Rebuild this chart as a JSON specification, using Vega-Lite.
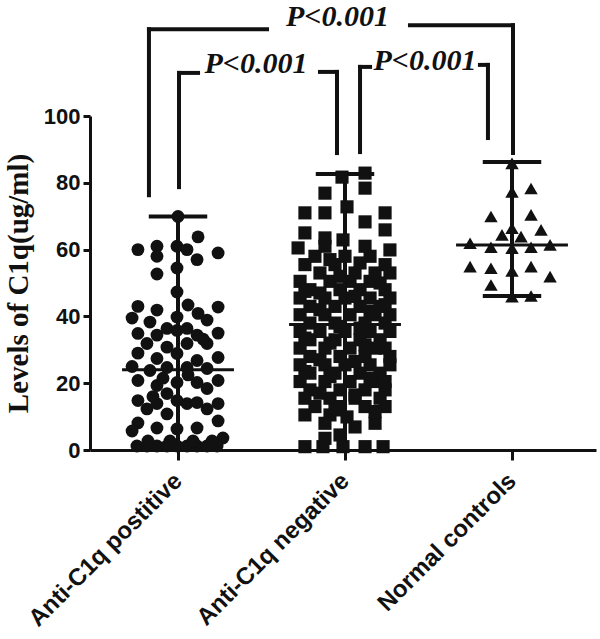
{
  "$schema": "https://vega.github.io/schema/vega-lite/v6.json",
  "autosize": {"type": "none"},
  "width": 506,
  "height": 334,
  "padding": {"left": 90, "top": 116, "right": 4, "bottom": 189},
  "background": "white",
  "config": {"view": {"stroke": null}},
  "datasets": {
    "points": [
      {"g":1,"dx":0,"v":69.9},{"g":1,"dx":0.12,"v":63.8},{"g":1,"dx":-0.24,"v":60},{"g":1,"dx":-0.126,"v":61},{"g":1,"dx":-0.126,"v":58},
      {"g":1,"dx":-0.006,"v":61},{"g":1,"dx":0.054,"v":60},{"g":1,"dx":0.114,"v":57},{"g":1,"dx":0.24,"v":59},{"g":1,"dx":-0.126,"v":52.7},
      {"g":1,"dx":-0.006,"v":54.5},{"g":1,"dx":-0.006,"v":47.3},{"g":1,"dx":-0.24,"v":43},{"g":1,"dx":-0.126,"v":41.9},{"g":1,"dx":0.06,"v":43.4},
      {"g":1,"dx":0.24,"v":42.8},{"g":1,"dx":-0.275,"v":39.5},{"g":1,"dx":-0.168,"v":38.3},{"g":1,"dx":-0.006,"v":39.8},{"g":1,"dx":0.12,"v":40.9},
      {"g":1,"dx":0.174,"v":38.9},{"g":1,"dx":-0.24,"v":34.9},{"g":1,"dx":-0.126,"v":34.4},{"g":1,"dx":-0.066,"v":36.4},{"g":1,"dx":-0.006,"v":35.8},
      {"g":1,"dx":0.054,"v":36.4},{"g":1,"dx":0.114,"v":34.4},{"g":1,"dx":0.24,"v":35},{"g":1,"dx":-0.186,"v":31.9},{"g":1,"dx":-0.066,"v":30.8},
      {"g":1,"dx":0.054,"v":31.9},{"g":1,"dx":0.174,"v":31.9},{"g":1,"dx":-0.24,"v":29},{"g":1,"dx":-0.126,"v":27.4},{"g":1,"dx":-0.006,"v":28.9},
      {"g":1,"dx":0.114,"v":26.8},{"g":1,"dx":0.24,"v":27.7},{"g":1,"dx":-0.275,"v":25},{"g":1,"dx":-0.168,"v":23.8},{"g":1,"dx":-0.066,"v":24.7},
      {"g":1,"dx":0.054,"v":24.7},{"g":1,"dx":0.174,"v":24.4},{"g":1,"dx":-0.24,"v":20.8},{"g":1,"dx":-0.126,"v":19.3},{"g":1,"dx":-0.006,"v":20.2},
      {"g":1,"dx":0.114,"v":20.2},{"g":1,"dx":0.24,"v":20.8},{"g":1,"dx":0.174,"v":18.4},{"g":1,"dx":-0.066,"v":16.9},{"g":1,"dx":-0.24,"v":14.8},
      {"g":1,"dx":-0.126,"v":13.9},{"g":1,"dx":-0.006,"v":14.8},{"g":1,"dx":0.054,"v":13.9},{"g":1,"dx":0.114,"v":14.2},{"g":1,"dx":0.24,"v":13.9},
      {"g":1,"dx":-0.186,"v":12.3},{"g":1,"dx":0.174,"v":12.3},{"g":1,"dx":-0.066,"v":10.8},{"g":1,"dx":0.24,"v":8.7},{"g":1,"dx":-0.24,"v":8.1},
      {"g":1,"dx":-0.275,"v":5.7},{"g":1,"dx":-0.126,"v":6.6},{"g":1,"dx":-0.006,"v":6.3},{"g":1,"dx":0.114,"v":6.6},{"g":1,"dx":0.269,"v":3.6},
      {"g":1,"dx":-0.246,"v":1.2},{"g":1,"dx":-0.186,"v":1.2},{"g":1,"dx":-0.126,"v":1.2},{"g":1,"dx":-0.066,"v":1.2},{"g":1,"dx":-0.006,"v":1.2},
      {"g":1,"dx":0.054,"v":1.2},{"g":1,"dx":0.114,"v":1.2},{"g":1,"dx":0.174,"v":1.2},{"g":1,"dx":0.234,"v":1.2},
      {"g":1,"dx":-0.18,"v":2.7},{"g":1,"dx":-0.048,"v":2.7},{"g":1,"dx":0.09,"v":2.7},{"g":1,"dx":0.204,"v":2.7},
      {"g":1,"dx":0.06,"v":22.5},{"g":1,"dx":-0.09,"v":21.5},{"g":1,"dx":0.15,"v":33.2},{"g":1,"dx":-0.15,"v":16},

      {"g":2,"dx":0.12,"v":82.9},{"g":2,"dx":-0.018,"v":81.7},{"g":2,"dx":0.12,"v":78.4},{"g":2,"dx":-0.12,"v":76.9},{"g":2,"dx":0.012,"v":72.8},
      {"g":2,"dx":-0.24,"v":71},{"g":2,"dx":-0.12,"v":71},{"g":2,"dx":0.24,"v":71},{"g":2,"dx":0.12,"v":68.3},{"g":2,"dx":-0.24,"v":65},
      {"g":2,"dx":0.24,"v":65.9},{"g":2,"dx":-0.012,"v":62.9},{"g":2,"dx":-0.12,"v":63.5},{"g":2,"dx":-0.281,"v":60.5},{"g":2,"dx":-0.12,"v":61},
      {"g":2,"dx":0.12,"v":61},{"g":2,"dx":0.269,"v":59.9},
      {"g":2,"dx":-0.18,"v":58},{"g":2,"dx":0,"v":58},{"g":2,"dx":0.15,"v":58},
      {"g":2,"dx":-0.24,"v":55.5},{"g":2,"dx":-0.06,"v":55.5},{"g":2,"dx":0.24,"v":55.5},
      {"g":2,"dx":-0.15,"v":53},{"g":2,"dx":0.06,"v":53},{"g":2,"dx":0.18,"v":53},{"g":2,"dx":0.269,"v":53},
      {"g":2,"dx":-0.269,"v":50.5},{"g":2,"dx":-0.09,"v":50.5},{"g":2,"dx":0.03,"v":50.5},{"g":2,"dx":0.15,"v":50.5},
      {"g":2,"dx":-0.21,"v":48},{"g":2,"dx":-0.03,"v":48},{"g":2,"dx":0.09,"v":48},{"g":2,"dx":0.24,"v":48},
      {"g":2,"dx":-0.269,"v":45.5},{"g":2,"dx":-0.12,"v":45.5},{"g":2,"dx":0,"v":45.5},{"g":2,"dx":0.15,"v":45.5},{"g":2,"dx":0.269,"v":45.5},
      {"g":2,"dx":-0.21,"v":43},{"g":2,"dx":-0.06,"v":43},{"g":2,"dx":0.09,"v":43},{"g":2,"dx":0.21,"v":43},
      {"g":2,"dx":-0.269,"v":40.5},{"g":2,"dx":-0.12,"v":40.5},{"g":2,"dx":0.03,"v":40.5},{"g":2,"dx":0.18,"v":40.5},{"g":2,"dx":0.269,"v":40.5},
      {"g":2,"dx":-0.21,"v":38},{"g":2,"dx":-0.06,"v":38},{"g":2,"dx":0.12,"v":38},{"g":2,"dx":0.24,"v":38},
      {"g":2,"dx":-0.269,"v":35.5},{"g":2,"dx":-0.15,"v":35.5},{"g":2,"dx":0,"v":35.5},{"g":2,"dx":0.15,"v":35.5},{"g":2,"dx":0.269,"v":35.5},
      {"g":2,"dx":-0.21,"v":33},{"g":2,"dx":-0.06,"v":33},{"g":2,"dx":0.09,"v":33},{"g":2,"dx":0.21,"v":33},
      {"g":2,"dx":-0.269,"v":30.5},{"g":2,"dx":-0.12,"v":30.5},{"g":2,"dx":0.03,"v":30.5},{"g":2,"dx":0.18,"v":30.5},
      {"g":2,"dx":-0.21,"v":28},{"g":2,"dx":-0.03,"v":28},{"g":2,"dx":0.12,"v":28},{"g":2,"dx":0.269,"v":28},
      {"g":2,"dx":-0.269,"v":25.5},{"g":2,"dx":-0.12,"v":25.5},{"g":2,"dx":0,"v":25.5},{"g":2,"dx":0.15,"v":25.5},{"g":2,"dx":0.269,"v":25.5},
      {"g":2,"dx":-0.21,"v":23},{"g":2,"dx":-0.06,"v":23},{"g":2,"dx":0.09,"v":23},{"g":2,"dx":0.21,"v":23},
      {"g":2,"dx":-0.269,"v":20.5},{"g":2,"dx":-0.12,"v":20.5},{"g":2,"dx":0.03,"v":20.5},{"g":2,"dx":0.18,"v":20.5},
      {"g":2,"dx":-0.21,"v":18},{"g":2,"dx":-0.03,"v":18},{"g":2,"dx":0.12,"v":18},{"g":2,"dx":0.24,"v":18},
      {"g":2,"dx":-0.24,"v":15.5},{"g":2,"dx":-0.09,"v":15.5},{"g":2,"dx":0.06,"v":15.5},{"g":2,"dx":0.21,"v":15.5},
      {"g":2,"dx":-0.18,"v":13},{"g":2,"dx":-0.03,"v":13},{"g":2,"dx":0.12,"v":13},{"g":2,"dx":0.24,"v":13},
      {"g":2,"dx":-0.24,"v":10.5},{"g":2,"dx":-0.09,"v":10.5},{"g":2,"dx":0.012,"v":9.9},
      {"g":2,"dx":-0.12,"v":8},{"g":2,"dx":0.06,"v":6.9},{"g":2,"dx":0.18,"v":8},
      {"g":2,"dx":-0.03,"v":4.5},{"g":2,"dx":-0.12,"v":3.5},
      {"g":2,"dx":-0.24,"v":1},{"g":2,"dx":-0.132,"v":1},{"g":2,"dx":-0.012,"v":1},{"g":2,"dx":0.12,"v":1},{"g":2,"dx":0.228,"v":1},
      {"g":2,"dx":-0.09,"v":57},{"g":2,"dx":0.09,"v":56},{"g":2,"dx":-0.03,"v":52},{"g":2,"dx":0.21,"v":50},
      {"g":2,"dx":-0.15,"v":47},{"g":2,"dx":0.06,"v":46},{"g":2,"dx":-0.15,"v":42},{"g":2,"dx":0.15,"v":41.5},
      {"g":2,"dx":-0.03,"v":37},{"g":2,"dx":0.09,"v":36.5},{"g":2,"dx":-0.09,"v":32},{"g":2,"dx":0.12,"v":31.5},
      {"g":2,"dx":-0.15,"v":27},{"g":2,"dx":0.06,"v":26.5},{"g":2,"dx":-0.09,"v":22},{"g":2,"dx":0.15,"v":21.5},
      {"g":2,"dx":-0.15,"v":17},{"g":2,"dx":0.06,"v":16.5},{"g":2,"dx":-0.06,"v":12},{"g":2,"dx":0.18,"v":11.5},
      {"g":2,"dx":-0.24,"v":47.5},{"g":2,"dx":0.24,"v":43.5},{"g":2,"dx":-0.24,"v":33.5},{"g":2,"dx":0.24,"v":30.5},
      {"g":2,"dx":-0.24,"v":23.5},{"g":2,"dx":0.24,"v":20.5},

      {"g":3,"dx":0,"v":85.8},{"g":3,"dx":0,"v":77.3},{"g":3,"dx":0.114,"v":78.3},{"g":3,"dx":-0.126,"v":69.9},{"g":3,"dx":0.114,"v":70.4},
      {"g":3,"dx":0,"v":66.4},{"g":3,"dx":-0.06,"v":64.4},{"g":3,"dx":0.054,"v":63.9},{"g":3,"dx":0.174,"v":65.9},{"g":3,"dx":-0.251,"v":61.9},
      {"g":3,"dx":-0.126,"v":60.7},{"g":3,"dx":0,"v":60.4},{"g":3,"dx":0.114,"v":60.7},{"g":3,"dx":0.228,"v":61.4},{"g":3,"dx":-0.251,"v":54.9},
      {"g":3,"dx":-0.126,"v":54.4},{"g":3,"dx":0,"v":53.6},{"g":3,"dx":0.114,"v":54.9},{"g":3,"dx":0.228,"v":51.9},{"g":3,"dx":-0.126,"v":49.4},
      {"g":3,"dx":0,"v":45.9},{"g":3,"dx":0.114,"v":46.1}
    ],
    "stats": [
      {"g":1,"mean":24.0,"lo":0,"hi":69.9},
      {"g":2,"mean":37.6,"lo":0,"hi":82.6},
      {"g":3,"mean":61.4,"lo":46.1,"hi":86.2}
    ],
    "brackets": [
      {"x":0.826,"x2":0.826,"y":76.3,"y2":126.0},
      {"x":0.826,"x2":1.533,"y":126.0,"y2":126.0},
      {"x":2.389,"x2":3.006,"y":127.2,"y2":127.2},
      {"x":3.006,"x2":3.006,"y":88.9,"y2":127.2},
      {"x":1.006,"x2":1.006,"y":78.7,"y2":112.9},
      {"x":1.006,"x2":1.12,"y":112.9,"y2":112.9},
      {"x":1.85,"x2":1.952,"y":113.2,"y2":113.2},
      {"x":1.952,"x2":1.952,"y":88.9,"y2":113.2},
      {"x":2.09,"x2":2.09,"y":89.2,"y2":114.7},
      {"x":2.09,"x2":2.15,"y":114.7,"y2":114.7},
      {"x":2.808,"x2":2.856,"y":115.3,"y2":115.3},
      {"x":2.856,"x2":2.856,"y":93.4,"y2":115.3}
    ],
    "plabels": [
      {"x":1.955,"y":126.8,"label":"P<0.001"},
      {"x":1.467,"y":112.9,"label":"P<0.001"},
      {"x":2.479,"y":113.8,"label":"P<0.001"}
    ]
  },
  "layer": [
    {
      "data": {"name": "stats"},
      "mark": {"type": "rule", "color": "#111111", "strokeWidth": 4},
      "encoding": {
        "x": {"field": "g", "type": "quantitative",
          "scale": {"domain": [0.473, 3.503], "nice": false, "zero": false},
          "axis": {
            "values": [1, 2, 3],
            "labelExpr": "datum.value == 1 ? 'Anti-C1q postitive' : datum.value == 2 ? 'Anti-C1q negative' : 'Normal controls'",
            "title": null, "grid": false,
            "domainColor": "#111111", "domainWidth": 3,
            "tickColor": "#111111", "tickWidth": 3, "tickSize": 10,
            "labelAngle": -45, "labelAlign": "right", "labelBaseline": "middle",
            "labelPadding": 17, "labelLimit": 0,
            "labelFont": "Liberation Sans", "labelFontWeight": "bold", "labelFontSize": 24,
            "labelColor": "#111111", "labelOverlap": false, "labelBound": false, "labelFlush": false
          }
        },
        "y": {"field": "lo", "type": "quantitative",
          "scale": {"domain": [0, 100], "nice": false},
          "axis": {
            "values": [0, 20, 40, 60, 80, 100],
            "title": "Levels of C1q(ug/ml)", "grid": false,
            "domainColor": "#111111", "domainWidth": 3,
            "tickColor": "#111111", "tickWidth": 3, "tickSize": 7,
            "labelPadding": 3,
            "labelFont": "Liberation Sans", "labelFontWeight": "bold", "labelFontSize": 22,
            "labelColor": "#111111",
            "titleFont": "Liberation Serif", "titleFontWeight": "bold", "titleFontSize": 29,
            "titleColor": "#111111", "titlePadding": 10
          }
        },
        "y2": {"field": "hi"}
      }
    },
    {
      "data": {"name": "stats"},
      "transform": [
        {"calculate": "datum.g - 0.175", "as": "ca"},
        {"calculate": "datum.g + 0.175", "as": "cb"}
      ],
      "mark": {"type": "rule", "color": "#111111", "strokeWidth": 4},
      "encoding": {
        "x": {"field": "ca", "type": "quantitative"},
        "x2": {"field": "cb"},
        "y": {"field": "hi", "type": "quantitative"}
      }
    },
    {
      "data": {"name": "stats"},
      "transform": [
        {"filter": "datum.lo > 0"},
        {"calculate": "datum.g - 0.175", "as": "ca"},
        {"calculate": "datum.g + 0.175", "as": "cb"}
      ],
      "mark": {"type": "rule", "color": "#111111", "strokeWidth": 4},
      "encoding": {
        "x": {"field": "ca", "type": "quantitative"},
        "x2": {"field": "cb"},
        "y": {"field": "lo", "type": "quantitative"}
      }
    },
    {
      "data": {"name": "stats"},
      "transform": [
        {"calculate": "datum.g - 0.335", "as": "ma"},
        {"calculate": "datum.g + 0.335", "as": "mb"}
      ],
      "mark": {"type": "rule", "color": "#111111", "strokeWidth": 3},
      "encoding": {
        "x": {"field": "ma", "type": "quantitative"},
        "x2": {"field": "mb"},
        "y": {"field": "mean", "type": "quantitative"}
      }
    },
    {
      "data": {"name": "points"},
      "transform": [{"calculate": "datum.g + datum.dx", "as": "px"}],
      "mark": {"type": "point", "filled": true, "opacity": 1, "color": "#111111", "strokeWidth": 0},
      "encoding": {
        "x": {"field": "px", "type": "quantitative"},
        "y": {"field": "v", "type": "quantitative"},
        "shape": {"field": "g", "type": "nominal",
          "scale": {"domain": [1, 2, 3], "range": ["circle", "square", "triangle-up"]},
          "legend": null},
        "size": {"field": "g", "type": "nominal",
          "scale": {"domain": [1, 2, 3], "range": [165, 180, 150]},
          "legend": null}
      }
    },
    {
      "data": {"name": "brackets"},
      "mark": {"type": "rule", "color": "#111111", "strokeWidth": 4, "strokeCap": "square"},
      "encoding": {
        "x": {"field": "x", "type": "quantitative"},
        "x2": {"field": "x2"},
        "y": {"field": "y", "type": "quantitative"},
        "y2": {"field": "y2"}
      }
    },
    {
      "data": {"name": "plabels"},
      "mark": {"type": "text", "font": "Liberation Serif", "fontStyle": "italic", "fontWeight": "bold",
        "fontSize": 30, "align": "center", "baseline": "alphabetic", "color": "#111111"},
      "encoding": {
        "x": {"field": "x", "type": "quantitative"},
        "y": {"field": "y", "type": "quantitative"},
        "text": {"field": "label"}
      }
    }
  ]
}
